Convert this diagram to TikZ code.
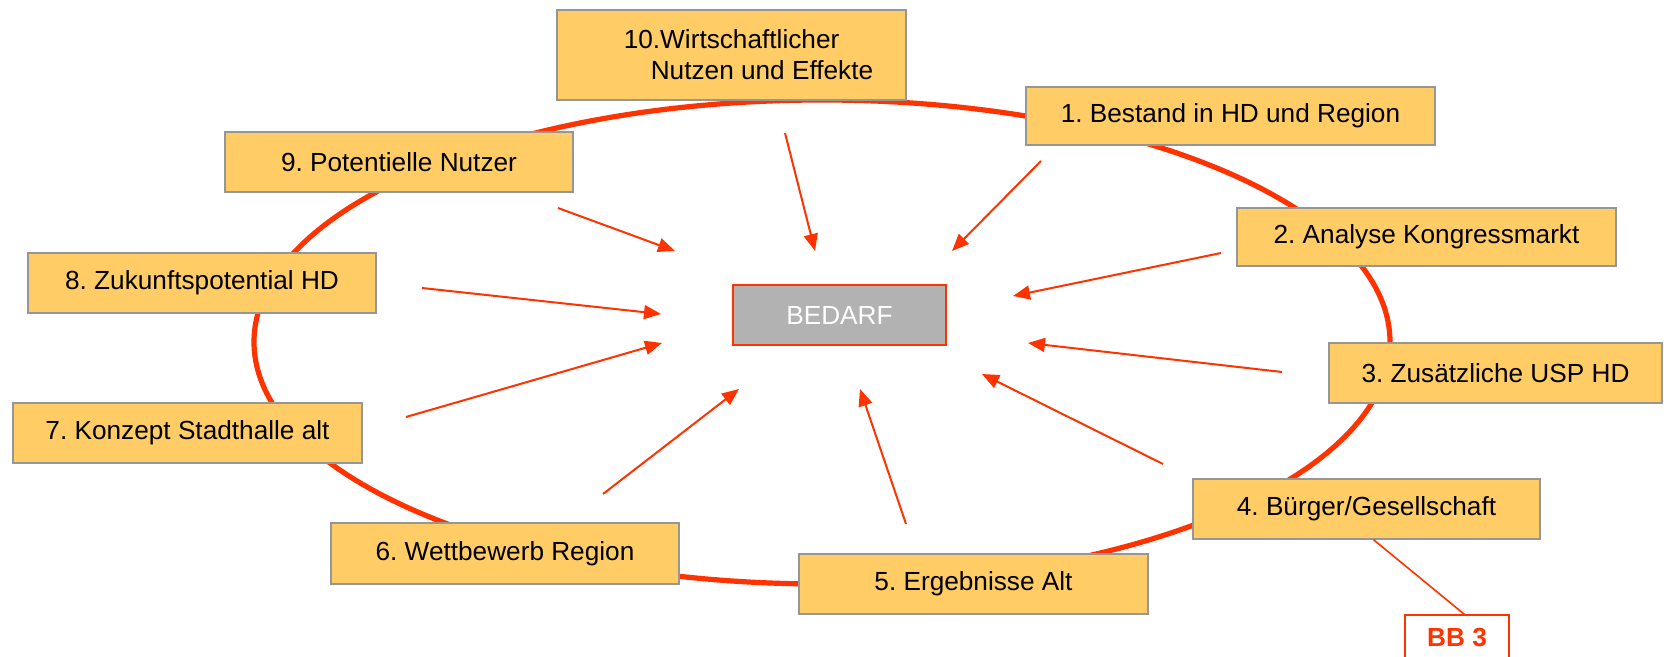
\documentclass[tikz,border=0pt]{standalone}
\usepackage{fontspec}
\setmainfont{Liberation Sans}
\usetikzlibrary{arrows.meta}
\frenchspacing
\definecolor{kreisrot}{RGB}{255,51,0}
\definecolor{kastengelb}{RGB}{255,204,102}
\definecolor{kastengrau}{RGB}{150,150,150}
\definecolor{bedarfgrau}{RGB}{178,178,178}

\begin{document}
\begin{tikzpicture}[x=0.5pt, y=-0.5pt,
    kasten/.style={draw=kastengrau, line width=0.6pt, fill=kastengelb, inner sep=0pt, text=black,
      font=\fontsize{13.1}{15.5}\selectfont},
    pfeil/.style={kreisrot, line width=1pt, -{Triangle[length=8.5pt,width=7pt]}}]
    \useasboundingbox (0,0) rectangle (1664,657);
    \draw[kreisrot, line width=2.6pt] (822,342) ellipse [x radius=284pt, y radius=121pt];
    \node at (731.5,55) [kasten, minimum width=174.5pt, minimum height=45pt, align=left] (n10)
      {\hspace*{17pt}10.Wirtschaftlicher\\\hspace*{30.5pt}Nutzen und Effekte};
    \node at (1230.5,116) [kasten, minimum width=204.5pt, minimum height=29pt] (n1) {1. Bestand in HD und Region};
    \node at (399,162) [kasten, minimum width=174pt, minimum height=30pt] (n9) {9. Potentielle Nutzer};
    \node at (1426.5,237) [kasten, minimum width=189.5pt, minimum height=29pt] (n2) {2. Analyse Kongressmarkt};
    \node at (202,283) [kasten, minimum width=174pt, minimum height=30pt] (n8) {8. Zukunftspotential HD};
    \node at (1495.5,373) [kasten, minimum width=166.5pt, minimum height=30pt] (n3) {3. Zusätzliche USP HD};
    \node at (187.5,433) [kasten, minimum width=174.5pt, minimum height=30pt] (n7) {7. Konzept Stadthalle alt};
    \node at (1366.5,509) [kasten, minimum width=173.5pt, minimum height=30pt] (n4) {4. Bürger/Gesellschaft};
    \node at (505,553.5) [kasten, minimum width=174pt, minimum height=30.5pt] (n6) {6. Wettbewerb Region};
    \node at (973.5,584) [kasten, minimum width=174.5pt, minimum height=30pt] (n5) {5. Ergebnisse Alt};
    \node at (839.5,315) [kasten, draw=kreisrot, fill=bedarfgrau, text=white, minimum width=106.5pt,
      minimum height=30pt] (bedarf) {BEDARF};
    \node at (1457,637.5) [kasten, draw=kreisrot, fill=white, text=kreisrot, minimum width=52pt,
      minimum height=22.5pt, font=\fontsize{13.1}{15.5}\selectfont\bfseries] (bb3) {BB 3};
    \draw[kreisrot, line width=0.8pt] ([xshift=90.5pt]n4.south west) -- ([xshift=30pt]bb3.north west);
    \coordinate (a1) at (1041,161);  \coordinate (b1) at (952,251);
    \coordinate (a2) at (1221,253);  \coordinate (b2) at (1013,296);
    \coordinate (a3) at (1282,372);  \coordinate (b3) at (1028,343);
    \coordinate (a4) at (1163,464);  \coordinate (b4) at (982,374);
    \coordinate (a5) at (906,524);   \coordinate (b5) at (860,389);
    \coordinate (a6) at (603,494);   \coordinate (b6) at (739,389);
    \coordinate (a7) at (406,417);   \coordinate (b7) at (662,343);
    \coordinate (a8) at (422,288);   \coordinate (b8) at (661,314);
    \coordinate (a9) at (558,208);   \coordinate (b9) at (675,251);
    \coordinate (a10) at (785,133);  \coordinate (b10) at (815,251);
    \foreach \i in {1,...,10} {
      \draw[pfeil] (a\i) -- (b\i);
    }
\end{tikzpicture}
\end{document}
